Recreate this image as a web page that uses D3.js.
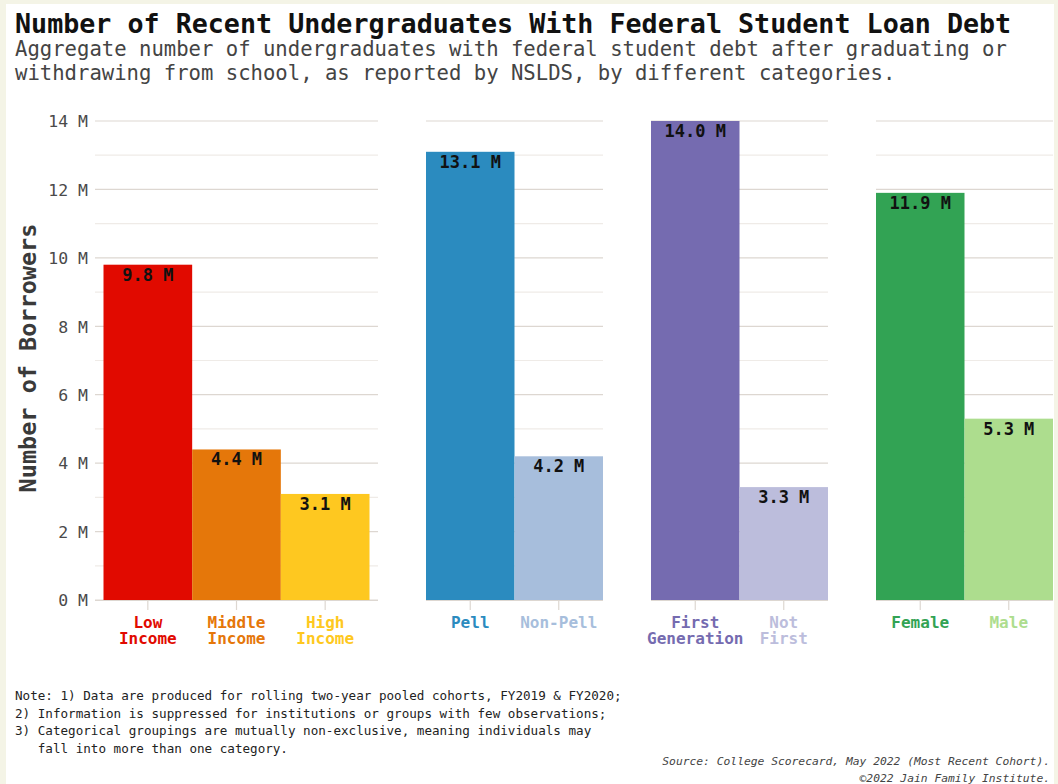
<!DOCTYPE html>
<html>
<head>
<meta charset="utf-8">
<script src="https://cdn.jsdelivr.net/npm/d3@7/dist/d3.min.js"></script>
<style>
  html, body { margin: 0; padding: 0; background: #f4f4e6; }
  svg { display: block; }
  text { font-family: "DejaVu Sans Mono", monospace; }
</style>
</head>
<body>
<svg id="chart" width="1058" height="784"></svg>
<script>
// Borrower groups (one facet each), categories, values in millions and fills
const groups = ["Income", "Pell", "Generation", "Gender"];
const categories = [
  ["Low\nIncome", "Middle\nIncome", "High\nIncome"],
  ["Pell", "Non-Pell"],
  ["First\nGeneration", "Not\nFirst"],
  ["Female", "Male"]
];
const borrowers = [
  [9.8, 4.4, 3.1],
  [13.1, 4.2],
  [14.0, 3.3],
  [11.9, 5.3]
];
const fills = [
  ["#e10a00", "#e5770a", "#fec820"],
  ["#2b8bbf", "#a7bedc"],
  ["#756bb0", "#bcbddc"],
  ["#32a354", "#addd8e"]
];
const yTicks = [0, 2, 4, 6, 8, 10, 12, 14];
const yMinor = [1, 3, 5, 7, 9, 11, 13];

const svg = d3.select("#chart");
const W = 1058, H = 784;

// white card on cream page
svg.append("rect").attr("x", 6).attr("y", 4).attr("width", W - 10).attr("height", H - 4)
  .attr("fill", "#ffffff");

// facet extents along x, and inner padding of each facet
const panelX = [[95, 378], [426, 603], [651, 828], [876, 1053]];
const panelPad = [8.5, 0, 0, 0];

const y = d3.scaleLinear().domain([0, 14]).range([600, 121]);

// y axis labels
const yAxis = d3.axisLeft(y).tickValues(yTicks).tickFormat(d => d + " M").tickSize(0).tickPadding(0);
const gy = svg.append("g").attr("transform", "translate(88,0)").call(yAxis);
gy.select(".domain").remove();
gy.selectAll("text").attr("font-size", 16.5).attr("fill", "#4a4a4a")
  .attr("font-family", "'DejaVu Sans Mono', monospace").attr("dy", "0.35em");

svg.append("text")
  .attr("transform", "translate(36,358) rotate(-90)")
  .attr("text-anchor", "middle")
  .attr("font-size", 23.5).attr("font-weight", "bold").attr("fill", "#3a3a3a")
  .text("Number of Borrowers");

groups.forEach((g, i) => {
  const [x0, x1] = panelX[i];
  const x = d3.scaleBand().domain(categories[i])
    .range([x0 + panelPad[i], x1 - panelPad[i]]).padding(0);
  const panel = svg.append("g").attr("class", "panel-" + g);

  // gridlines
  panel.selectAll("line.minor").data(yMinor).join("line").attr("class", "minor")
    .attr("x1", x0).attr("x2", x1).attr("y1", d => y(d)).attr("y2", d => y(d))
    .attr("stroke", "#efebe7").attr("stroke-width", 1.2);
  panel.selectAll("line.major").data(yTicks).join("line").attr("class", "major")
    .attr("x1", x0).attr("x2", x1).attr("y1", d => y(d)).attr("y2", d => y(d))
    .attr("stroke", "#ddd7d1").attr("stroke-width", 1.2);

  const rows = categories[i].map((c, j) => ({ c, v: borrowers[i][j], f: fills[i][j] }));

  // bars
  panel.selectAll("rect.bar").data(rows).join("rect").attr("class", "bar")
    .attr("x", d => x(d.c)).attr("width", x.bandwidth())
    .attr("y", d => y(d.v)).attr("height", d => y(0) - y(d.v))
    .attr("fill", d => d.f);

  // value labels
  panel.selectAll("text.val").data(rows).join("text").attr("class", "val")
    .attr("x", d => x(d.c) + x.bandwidth() / 2).attr("y", d => y(d.v) + 16)
    .attr("text-anchor", "middle").attr("font-size", 17).attr("font-weight", "bold")
    .attr("fill", "#111")
    .text(d => d.v.toFixed(1) + " M");

  // x axis with category ticks
  const xAxis = d3.axisBottom(x).tickSize(10).tickFormat("");
  const gx = panel.append("g").attr("transform", "translate(0,600)").call(xAxis);
  gx.select(".domain").remove();
  gx.selectAll(".tick line").attr("stroke", "#ddd7d1").attr("stroke-width", 1.2);
  panel.append("line").attr("x1", x0).attr("x2", x1).attr("y1", 600.5).attr("y2", 600.5)
    .attr("stroke", "#ddd7d1").attr("stroke-width", 1.2);

  // coloured category labels, one text per line
  rows.forEach(d => {
    d.c.split("\n").forEach((line, k) => {
      panel.append("text")
        .attr("x", x(d.c) + x.bandwidth() / 2).attr("y", 628 + k * 16)
        .attr("text-anchor", "middle").attr("font-size", 16).attr("font-weight", "bold")
        .attr("fill", d.f).text(line);
    });
  });
});

// title and subtitle
svg.append("text").attr("x", 15).attr("y", 33)
  .attr("font-size", 26.7).attr("font-weight", "bold").attr("fill", "#111")
  .text("Number of Recent Undergraduates With Federal Student Loan Debt");
const sub = ["Aggregate number of undergraduates with federal student debt after graduating or",
             "withdrawing from school, as reported by NSLDS, by different categories."];
sub.forEach((s, k) => {
  svg.append("text").attr("x", 15).attr("y", 56 + k * 24)
    .attr("font-size", 20.6).attr("fill", "#444").text(s);
});

// notes
const notes = [
  "Note: 1) Data are produced for rolling two-year pooled cohorts, FY2019 & FY2020;",
  "2) Information is suppressed for institutions or groups with few observations;",
  "3) Categorical groupings are mutually non-exclusive, meaning individuals may",
  "   fall into more than one category."
];
notes.forEach((s, k) => {
  svg.append("text").attr("x", 15).attr("y", 700 + k * 17.5)
    .attr("font-size", 12.6).attr("fill", "#222").attr("xml:space", "preserve")
    .style("white-space", "pre").text(s);
});

// source
const source = ["Source: College Scorecard, May 2022 (Most Recent Cohort).",
                "\u00a92022 Jain Family Institute."];
source.forEach((s, k) => {
  svg.append("text").attr("x", 1050).attr("y", 765 + k * 16.5)
    .attr("text-anchor", "end").attr("font-size", 11.3).attr("font-style", "italic")
    .attr("fill", "#444").text(s);
});
</script>
</body>
</html>
